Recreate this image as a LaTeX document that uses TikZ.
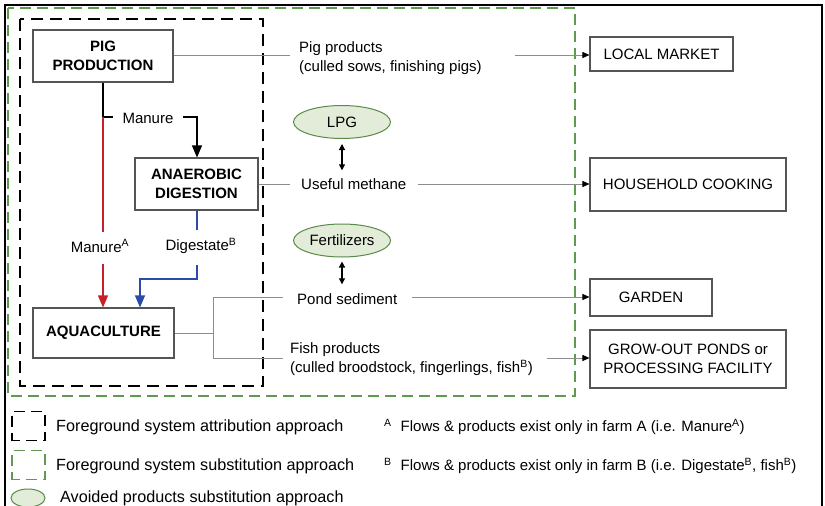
\documentclass[tikz,border=0pt]{standalone}
\usepackage{fontspec}
\setmainfont{Liberation Sans}
\usetikzlibrary{arrows.meta,shapes.geometric}
\definecolor{framegreen}{HTML}{5E9A50}
\definecolor{avoidfill}{HTML}{E3ECD8}
\definecolor{avoiddraw}{HTML}{5A8A48}
\definecolor{flowred}{HTML}{C8202A}
\definecolor{flowblue}{HTML}{2B4BA6}
\definecolor{flowgray}{HTML}{8C8C8C}
\definecolor{boxline}{HTML}{555555}
\begin{document}
\begin{tikzpicture}[x=1pt,y=-1pt,
  every node/.style={font=\fontsize{15}{19}\selectfont, inner sep=0pt},
  process/.style={draw=boxline, line width=1.1pt, fill=white, align=center,
    font=\fontsize{15}{19}\selectfont\bfseries},
  sink/.style={draw=boxline, line width=1.1pt, fill=white, align=center},
  avoided/.style={ellipse, draw=avoiddraw, fill=avoidfill, line width=1pt,
    minimum width=97pt, minimum height=33pt},
  lbl/.style={align=left, anchor=west},
  legtext/.style={anchor=west, font=\fontsize{16.2}{19}\selectfont},
  product/.style={draw=flowgray, line width=0.9pt},
  tip/.style={-{Triangle[length=7pt,width=6pt,color=black]}},
  bigtip/.style={-{Triangle[length=12pt,width=10pt]}},
  dbl/.style={line width=1.2pt, {Triangle[length=6pt,width=6pt]}-{Triangle[length=6pt,width=6pt]}},
  attribution/.style={draw=black, line width=1.4pt, dash pattern=on 12pt off 7pt},
  substitution/.style={draw=framegreen, line width=1.4pt, dash pattern=on 11pt off 6pt},
  legicon/.style={line width=1.4pt, dash pattern=on 11pt off 6pt, dash phase=3pt,
    minimum width=33pt, minimum height=29pt},
]
\useasboundingbox (0,0) rectangle (825,506);
\fill[white] (0,0) rectangle (825,506);

% outer frame of the figure
\draw[line width=1.3pt] (5,506) -- (5,5) -- (822,5) -- (822,506);

% system boundaries
\draw[substitution] (8,8) rectangle (575,396);
\draw[attribution] (20,19) rectangle (263,386);

% processes inside the farm
\node[process, minimum width=140pt, minimum height=52pt] (pig) at (103,56) {PIG\\PRODUCTION};
\node[process, minimum width=123pt, minimum height=52pt] (ad) at (196.5,184) {ANAEROBIC\\DIGESTION};
\node[process, minimum width=141pt, minimum height=50pt] (aqua) at (103.5,333) {AQUACULTURE};

% destinations outside the farm
\node[sink, minimum width=143pt, minimum height=34pt] (local) at (661.5,54) {LOCAL MARKET};
\node[sink, minimum width=196pt, minimum height=53pt] (cook) at (688,184.5) {HOUSEHOLD COOKING};
\node[sink, minimum width=122pt, minimum height=37pt] (garden) at (651,297.5) {GARDEN};
\node[sink, minimum width=196pt, minimum height=58pt] (grow) at (688,359) {GROW-OUT PONDS or\\PROCESSING FACILITY};

% avoided products
\node[avoided] (lpg) at (342,122) {LPG};
\node[avoided] (fert) at (342,240.5) {Fertilizers};

% flow labels
\node (manure) at (148,118) {Manure};
\node (manA) at (100,246) {Manure\textsuperscript{A}};
\node (digB) at (201,246) {Digestate\textsuperscript{B}};
\node[lbl] (pigprod) at (299,58.5) {Pig products\\(culled sows, finishing pigs)};
\node[lbl] (methane) at (301,184) {Useful methane};
\node[lbl] (pond) at (297,299) {Pond sediment};
\node[lbl] (fish) at (290,359) {Fish products\\(culled broodstock, fingerlings, fish\textsuperscript{B})};

% junction points
\coordinate (mleft) at (103,117);
\coordinate (mright) at (197,117);
\coordinate (dbend) at (197,279);
\coordinate (abend) at (140,279);
\coordinate (split) at (213,333);
\coordinate (splitT) at (213,297);
\coordinate (splitB) at (213,358);
\coordinate (pigA) at (290,55);
\coordinate (pigB) at (515,55);
\coordinate (methA) at (290,184);
\coordinate (methB) at (418,184);
\coordinate (pondA) at (283,297);
\coordinate (pondB) at (412,297);
\coordinate (fishA) at (283,358);
\coordinate (fishB) at (547,358);

% manure to digester
\draw[line width=1.2pt] (pig.south -| mleft) -- (mleft) -- ([xshift=10pt]mleft);
\draw[line width=1.2pt, bigtip] ([xshift=-14pt]mright) -- (mright) -- (ad.north -| mright);

% manure straight to the ponds (farm A)
\draw[flowred, line width=1.2pt] (mleft) -- ([yshift=8pt]manA.north -| mleft);
\draw[flowred, line width=1.2pt, bigtip] ([yshift=-11pt]manA.south -| mleft) -- (aqua.north -| mleft);

% digestate to the ponds (farm B)
\draw[flowblue, line width=1.2pt] (ad.south -| dbend) -- ([yshift=8pt]digB.north -| dbend);
\draw[flowblue, line width=1.2pt, bigtip] ([yshift=-11pt]digB.south -| dbend) -- (dbend) -- (abend) -- (aqua.north -| abend);

% products leaving the farm
\draw[product] (pig.east |- pigA) -- (pigA);
\draw[product, tip] (pigB) -- (local.west |- pigB);
\draw[product] (ad.east) -- (methA);
\draw[product, tip] (methB) -- (cook.west |- methB);
\draw[product] (aqua.east) -- (split);
\draw[product] (splitT) -- (splitB);
\draw[product] (splitT) -- (pondA);
\draw[product] (splitB) -- (fishA);
\draw[product, tip] (pondB) -- (garden.west |- pondB);
\draw[product, tip] (fishB) -- (grow.west |- fishB);

% substitution of avoided products
\draw[dbl] ([yshift=-5pt]lpg.south) -- ([yshift=8pt]methane.north -| lpg);
\draw[dbl] ([yshift=-4pt]fert.south) -- ([yshift=9pt]pond.north -| fert);

% legend
\node[legicon, draw=black] (legA) at (28.5,426) {};
\node[legtext] at (56,427) {Foreground system attribution approach};
\node[legicon, draw=framegreen] (legS) at (28.5,465) {};
\node[legtext] at (56,466) {Foreground system substitution approach};
\node[ellipse, draw=avoiddraw, fill=avoidfill, line width=1pt, minimum width=34pt, minimum height=18pt] (legE) at (28,498) {};
\node[legtext] at (60,498) {Avoided products substitution approach};

\node[lbl] at (384,427) {\textsuperscript{A}\hspace{9pt}Flows \& products exist only in farm A (i.e. Manure\textsuperscript{A})};
\node[lbl] at (384,466) {\textsuperscript{B}\hspace{9pt}Flows \& products exist only in farm B (i.e. Digestate\textsuperscript{B}, fish\textsuperscript{B})};
\end{tikzpicture}
\end{document}
